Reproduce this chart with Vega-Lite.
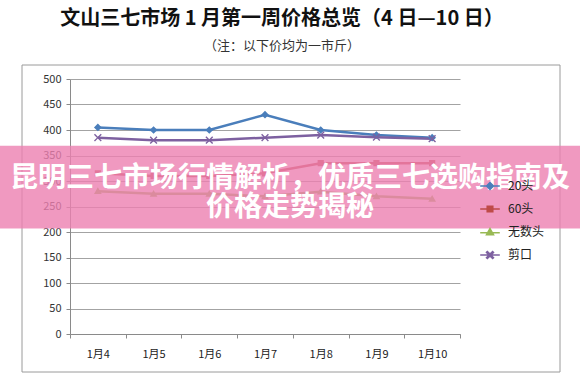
{
  "$schema": "https://vega.github.io/schema/vega-lite/v6.json",
  "width": 390,
  "height": 255,
  "autosize": {"type": "none"},
  "padding": {"left": 70, "top": 79, "right": 120, "bottom": 47},
  "background": "white",
  "config": {
    "font": "Noto Sans CJK SC",
    "view": {"stroke": null},
    "axisY": {
      "tickCount": 10,
      "grid": true,
      "gridColor": "#a3a3a3",
      "domainColor": "#8a8a8a",
      "tickColor": "#8a8a8a",
      "tickSize": 4,
      "labelPadding": 5,
      "labelFontSize": 11,
      "labelColor": "#333333"
    },
    "axisX": {
      "labelAngle": 0,
      "domainColor": "#8a8a8a",
      "tickColor": "#8a8a8a",
      "tickSize": 4,
      "labelFontSize": 11,
      "labelColor": "#222222",
      "labelPadding": 10,
      "grid": false
    }
  },
  "title": {
    "text": "文山三七市场 1 月第一周价格总览（4 日—10 日）",
    "subtitle": "（注：以下价均为一市斤）",
    "fontSize": 20,
    "fontWeight": "bold",
    "color": "#111111",
    "subtitleFontSize": 13,
    "subtitleColor": "#333333",
    "subtitlePadding": 11,
    "anchor": "middle",
    "frame": "group",
    "offset": 12,
    "dx": 17
  },
  "datasets": {
    "prices": [
      {"date": "1月4", "series": "20头", "price": 405},
      {"date": "1月5", "series": "20头", "price": 400},
      {"date": "1月6", "series": "20头", "price": 400},
      {"date": "1月7", "series": "20头", "price": 430},
      {"date": "1月8", "series": "20头", "price": 400},
      {"date": "1月9", "series": "20头", "price": 390},
      {"date": "1月10", "series": "20头", "price": 385},
      {"date": "1月4", "series": "60头", "price": 315},
      {"date": "1月5", "series": "60头", "price": 310},
      {"date": "1月6", "series": "60头", "price": 310},
      {"date": "1月7", "series": "60头", "price": 315},
      {"date": "1月8", "series": "60头", "price": 335},
      {"date": "1月9", "series": "60头", "price": 335},
      {"date": "1月10", "series": "60头", "price": 335},
      {"date": "1月4", "series": "无数头", "price": 280},
      {"date": "1月5", "series": "无数头", "price": 275},
      {"date": "1月6", "series": "无数头", "price": 275},
      {"date": "1月7", "series": "无数头", "price": 270},
      {"date": "1月8", "series": "无数头", "price": 279},
      {"date": "1月9", "series": "无数头", "price": 270},
      {"date": "1月10", "series": "无数头", "price": 265},
      {"date": "1月4", "series": "剪口", "price": 385},
      {"date": "1月5", "series": "剪口", "price": 380},
      {"date": "1月6", "series": "剪口", "price": 380},
      {"date": "1月7", "series": "剪口", "price": 385},
      {"date": "1月8", "series": "剪口", "price": 390},
      {"date": "1月9", "series": "剪口", "price": 386},
      {"date": "1月10", "series": "剪口", "price": 383}
    ],
    "banner": [
      {"line1": "昆明三七市场行情解析，优质三七选购指南及", "line2": "价格走势揭秘"}
    ]
  },
  "layer": [
    {
      "data": {"name": "banner"},
      "mark": {"type": "rect", "x": -48, "x2": 490, "y": -14, "y2": 293, "fill": "transparent", "stroke": "#9a9a9a", "strokeWidth": 1},
      "encoding": {}
    },
    {
      "data": {"name": "prices"},
      "mark": {"type": "line", "strokeWidth": 2.5},
      "encoding": {
        "x": {
          "field": "date",
          "type": "ordinal",
          "sort": ["1月4", "1月5", "1月6", "1月7", "1月8", "1月9", "1月10"],
          "scale": {"type": "band", "paddingInner": 0, "paddingOuter": 0},
          "axis": {"title": null, "tickBand": "extent"}
        },
        "y": {
          "field": "price",
          "type": "quantitative",
          "scale": {"domain": [0, 500]},
          "axis": {"title": null}
        },
        "color": {
          "field": "series",
          "type": "nominal",
          "scale": {"domain": ["20头", "60头", "无数头", "剪口"], "range": ["#4A7EBB", "#BE4B48", "#98B954", "#7D60A0"]},
          "legend": {
            "title": null,
            "orient": "none",
            "legendX": 414,
            "legendY": 101,
            "symbolSize": 49,
            "labelFontSize": 12,
            "labelColor": "#222222",
            "labelOffset": 12,
            "rowPadding": 10
          }
        }
      }
    },
    {
      "data": {"name": "prices"},
      "mark": {"type": "point", "filled": true, "size": 60, "strokeWidth": 0, "opacity": 1},
      "encoding": {
        "x": {"field": "date", "type": "ordinal", "sort": ["1月4", "1月5", "1月6", "1月7", "1月8", "1月9", "1月10"]},
        "y": {"field": "price", "type": "quantitative"},
        "fill": {
          "field": "series",
          "type": "nominal",
          "scale": {"domain": ["20头", "60头", "无数头", "剪口"], "range": ["#4A7EBB", "#BE4B48", "#98B954", "#7D60A0"]},
          "legend": null
        },
        "shape": {
          "field": "series",
          "type": "nominal",
          "scale": {
            "domain": ["20头", "60头", "无数头", "剪口"],
            "range": [
              "M-2.8,0H2.8M-1,0L0,-1L1,0L0,1Z",
              "M-2.8,0H2.8M-0.8,-0.8H0.8V0.8H-0.8Z",
              "M-2.8,0.2H2.8M0,-1L1,0.75H-1Z",
              "M-2.8,0H2.8M-1,-0.75L-0.75,-1L0,-0.25L0.75,-1L1,-0.75L0.25,0L1,0.75L0.75,1L0,0.25L-0.75,1L-1,0.75L-0.25,0Z"
            ]
          },
          "legend": null
        },
        "stroke": {
          "field": "series",
          "type": "nominal",
          "scale": {"domain": ["20头", "60头", "无数头", "剪口"], "range": ["#4A7EBB", "#BE4B48", "#98B954", "#7D60A0"]},
          "legend": null
        }
      }
    },
    {
      "data": {"name": "banner"},
      "mark": {"type": "rect", "x": -70, "x2": 510, "fill": "#ec7fb0", "opacity": 0.8},
      "encoding": {
        "y": {"datum": 369, "type": "quantitative"},
        "y2": {"datum": 207}
      }
    },
    {
      "data": {"name": "banner"},
      "mark": {
        "type": "text",
        "fontSize": 28,
        "fontWeight": "bold",
        "fill": "white",
        "align": "center",
        "baseline": "middle",
        "lineHeight": 29,
        "dx": 25
      },
      "encoding": {
        "text": {"value": ["昆明三七市场行情解析，优质三七选购指南及", "价格走势揭秘"]},
        "y": {"datum": 304, "type": "quantitative"}
      }
    }
  ]
}
